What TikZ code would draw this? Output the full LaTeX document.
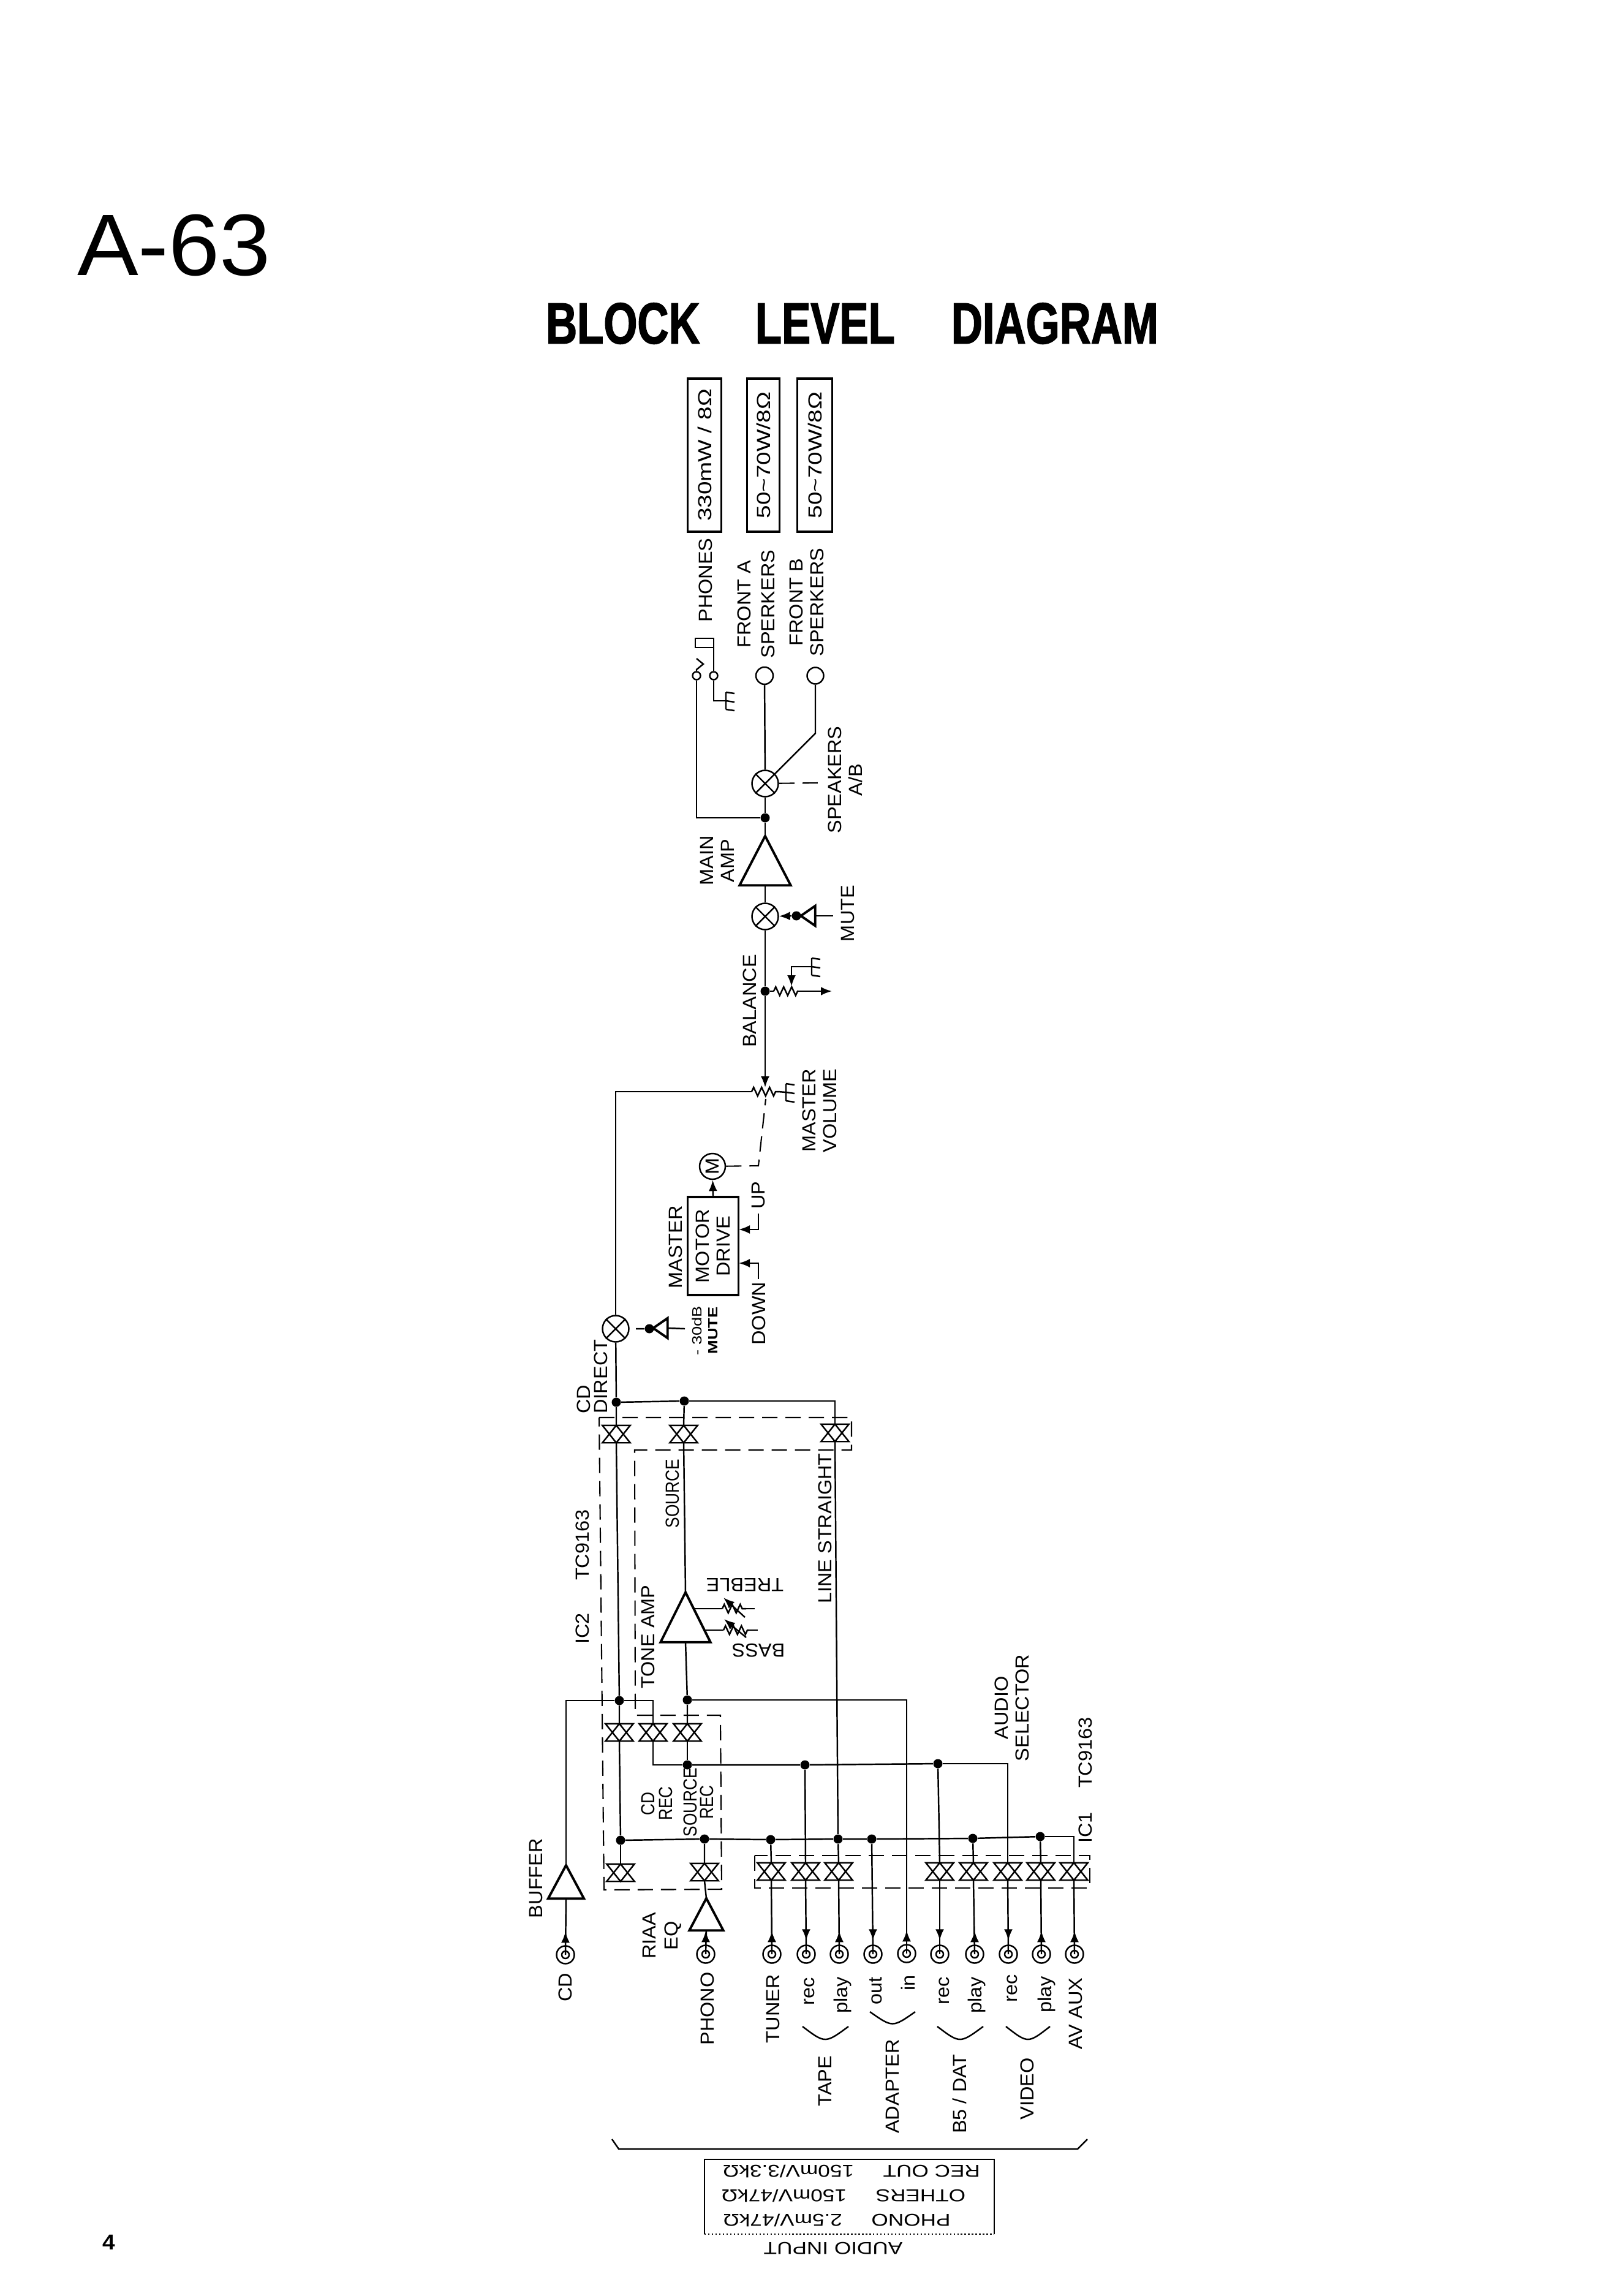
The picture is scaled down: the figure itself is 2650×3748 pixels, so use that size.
\documentclass[tikz,border=0pt]{standalone}
\usepackage{fontspec}
\setmainfont[FakeStretch=1.05]{Liberation Sans}
\newfontfamily\widefont[FakeStretch=1.25]{Liberation Sans}
\newfontfamily\narrowfont[FakeStretch=0.85]{Liberation Sans}
\newfontfamily\titlefont[FakeStretch=0.745,BoldFeatures={FakeBold=1.5}]{Liberation Sans}
\usetikzlibrary{arrows.meta,decorations.pathmorphing}

\tikzset{
  wire/.style={line width=.7pt},
  heavy/.style={line width=1.1pt},
  dashwire/.style={line width=.6pt,dash pattern=on .25cm off .13cm},
  tipwire/.style={wire,-{Latex[length=.18cm,width=.14cm]}},
  zig/.style={wire,decorate,decoration={zigzag,segment length=.13cm,amplitude=.07cm}},
  txt/.style={inner sep=0pt,align=center,font=\fontsize{8.8}{9.7}\selectfont},
  lbl/.style={txt,rotate=90},
  flip/.style={txt,rotate=180,font=\fontsize{8}{9.7}\selectfont\widefont},
  dot/.style={circle,fill,inner sep=0pt,minimum size=.15cm},
  ratebox/.style={draw,heavy,rotate=90,inner sep=0pt,minimum width=2.5cm,font=\fontsize{8.8}{9.7}\selectfont\widefont},
  gatebox/.style={inner sep=0pt,minimum width=.44cm,minimum height=.27cm},
  ringbox/.style={draw,wire,circle,inner sep=0pt,minimum size=.13cm},
}

% Repeated parts
\newcommand{\gate}[2]{\node[gatebox] (#1) at (#2) {};
  \draw[wire] (#1.south west) -- (#1.north) -- (#1.south east) -- cycle
    (#1.north west) -- (#1.south) -- (#1.north east) -- cycle;}
\newcommand{\mixer}[2]{\node[draw,wire,circle,inner sep=0pt,minimum size=.43cm] (#1) at (#2) {};
  \draw[wire] (#1.north west) -- (#1.south east) (#1.north east) -- (#1.south west);}
\newcommand{\ampl}[4]{\node[inner sep=0pt,minimum width=#3cm,minimum height=#4cm] (#1) at (#2) {};
  \draw[heavy] (#1.south west) -- (#1.north) -- (#1.south east) -- cycle;}
\newcommand{\drv}[2]{\node[inner sep=0pt,minimum width=.22cm,minimum height=.31cm] (#1) at (#2) {};
  \draw[heavy] (#1.north east) -- (#1.west) -- (#1.south east) -- cycle;}
\newcommand{\jack}[2]{\node[draw,wire,circle,inner sep=0pt,minimum size=.29cm] (#1) at (#2) {};
  \draw[wire] (#1.center) circle (6);}
\newcommand{\gnd}[2]{\coordinate (#1) at (#2);
  \draw[wire] (#1) +(0,-14) -- +(0,14) (#1) +(0,-14) -- +(14,-12) (#1) -- +(14,2) (#1) +(0,14) -- +(14,16);}
\newcommand{\inarrow}[1]{\draw[tipwire] (#1.north) -- ++(0,-22);}
\newcommand{\outarrow}[1]{\draw[tipwire] (#1.north) ++(0,-30) -- ++(0,23);}

\begin{document}
\begin{tikzpicture}[x=.01cm,y=-.01cm]
\useasboundingbox (0,0) rectangle (2650,3748);

% Headings
\node[inner sep=0pt,font=\fontsize{40.5}{44}\selectfont] (pagename) at (284,400) {A-63};
\node[inner sep=0pt,font=\fontsize{27}{30}\selectfont\titlefont\bfseries] (pagetitle) at (1391,528) {BLOCK \hspace{14.5pt} LEVEL \hspace{15pt} DIAGRAM};
\node[inner sep=0pt,font=\fontsize{10}{12}\selectfont\bfseries] (pagenum) at (178,3660) {4};

% Output ratings
\node[ratebox,minimum height=.55cm] (ratephones) at (1150,743) {330mW / 8Ω};
\node[ratebox,minimum height=.53cm] (ratea) at (1246,743) {50\textasciitilde70W/8Ω};
\node[ratebox,minimum height=.57cm] (rateb) at (1330,743) {50\textasciitilde70W/8Ω};
\node[lbl] (phones) at (1152,947) {PHONES};
\node[lbl] (fronta) at (1234,986) {FRONT A\\[1.4pt]SPERKERS};
\node[lbl] (frontb) at (1317,983) {FRONT B\\SPERKERS};
\node[lbl] (speakers) at (1380,1273) {SPEAKERS\\A/B};

% Phones jack and speaker outputs
\node[ringbox] (tip) at (1137,1103) {};
\node[ringbox] (sleeve) at (1165,1103) {};
\draw[wire] (tip) -- (1137,1093) -- (1148,1084) -- (1137,1075);
\draw[wire] (sleeve) |- (1135,1042) -- (1135,1057) -- (1165,1057);
\gnd{gndphones}{1185,1144}
\draw[wire] (sleeve) |- (gndphones);
\node[draw,wire,circle,inner sep=0pt,minimum size=.28cm] (ja) at (1248,1103) {};
\node[draw,wire,circle,inner sep=0pt,minimum size=.27cm] (jb) at (1331,1103) {};
\mixer{mixspk}{1249,1279}
\coordinate (spkkink) at (1331,1197);
\coordinate (spkctl) at (1336,1278);
\node[dot] (dspk) at (1249,1335) {};
\draw[wire] (ja) -- (mixspk);
\draw[wire] (jb) -- (spkkink) -- (mixspk);
\draw[dashwire] (mixspk) -- (spkctl);
\draw[wire] (mixspk) -- (dspk);
\draw[wire] (tip) |- (dspk);

% Main amp and mute
\ampl{mainamp}{1249,1405}{.82}{.79}
\node[lbl] (mainlbl) at (1171,1405) {MAIN\\AMP};
\draw[wire] (dspk) -- (mainamp.north);
\mixer{mixmute}{1249,1496}
\draw[wire] (mainamp.south) -- (mixmute);
\drv{mutedrv}{1319,1495}
\node[dot] (dmute) at (1300,1495) {};
\coordinate (mutein) at (1360,1495);
\draw[wire] (dmute) -- (mutedrv.west) (mutedrv.east) -- (mutein);
\draw[tipwire] (dmute) -- (mixmute);
\node[lbl] (mutelbl) at (1384,1491) {MUTE};

% Balance
\node[dot] (dbal) at (1249,1618) {};
\draw[wire] (mixmute) -- (dbal);
\node[lbl] (ballbl) at (1224,1634) {BALANCE};
\coordinate (balleft) at (1263,1618);
\coordinate (balright) at (1303,1618);
\coordinate (balout) at (1358,1618);
\coordinate (balwipe) at (1292,1610);
\draw[wire] (dbal) -- (balleft);
\draw[zig] (balleft) -- (balright);
\draw[tipwire] (balright) -- (balout);
\gnd{gndbal}{1325,1578}
\draw[tipwire] (gndbal) -| (balwipe);

% Master volume
\coordinate (volleft) at (1227,1782);
\coordinate (volright) at (1270,1782);
\coordinate (volwipe) at (1249,1775);
\coordinate (volctl) at (1250,1794);
\coordinate (volkink) at (1238,1903);
\gnd{gndvol}{1283,1783}
\draw[zig] (volleft) -- (volright);
\draw[wire] (volright) -- (gndvol);
\draw[tipwire] (dbal) -- (volwipe);
\node[lbl] (vollbl) at (1338,1813) {MASTER\\VOLUME};

% Motor drive
\node[draw,wire,circle,inner sep=0pt,minimum size=.42cm,rotate=90,font=\fontsize{8.8}{9.7}\selectfont] (mot) at (1163,1904) {M};
\draw[dashwire] (mot) -- (volkink) -- (volctl);
\node[draw,heavy,rotate=90,inner sep=0pt,align=center,minimum width=1.6cm,minimum height=.83cm,font=\fontsize{8.8}{9.7}\selectfont] (motorbox) at (1164,2034) {MOTOR\\DRIVE};
\draw[tipwire] (motorbox.east) -- (mot);
\node[lbl] (masterlbl) at (1103,2036) {MASTER};
\coordinate (upin) at (1206,2007);
\coordinate (downin) at (1206,2062);
\coordinate (upend) at (1238,1981);
\coordinate (downend) at (1238,2088);
\draw[tipwire] (upend) |- (upin);
\draw[tipwire] (downend) |- (downin);
\node[lbl] (uplbl) at (1238,1951) {UP};
\node[lbl] (downlbl) at (1239,2144) {DOWN};

% CD direct
\mixer{mixcd}{1005,2169}
\draw[wire] (volleft) -| (mixcd);
\coordinate (cdmuteout) at (1038,2169);
\coordinate (cdmutein) at (1118,2169);
\node[dot] (dcdmute) at (1060,2169) {};
\drv{cddrv}{1078,2168}
\draw[wire] (cdmuteout) -- (dcdmute) -- (cddrv.west) (cddrv.east) -- (cdmutein);
\node[lbl,font=\fontsize{6.2}{7.4}\selectfont\widefont] (cdmutelbl) at (1151,2172) {- 30dB\\{\bfseries MUTE}};
\node[lbl,align=left] (cddlbl) at (967,2247) {CD\\[-1.7pt]DIRECT};

% IC2 selector
\node[dot] (dcd) at (1006,2289) {};
\node[dot] (dsrc) at (1117,2287) {};
\gate{sdirect}{1006,2341}
\gate{ssource}{1116,2341}
\gate{sline}{1363,2339}
\draw[wire] (mixcd) -- (dcd) -- (sdirect.north);
\draw[wire] (dcd) -- (dsrc) -- (ssource.north);
\draw[wire] (dsrc) -| (sline.north);
\draw[dashwire] (978,2314) -- (1390,2314) -- (1390,2367) -- (1036,2367) -- (1037,2800) -- (1176,2800) -- (1178,3084) -- (986,3085) -- cycle;
\node[lbl] (ic2lbl) at (951,2574) {IC2 \hspace{10pt} TC9163};
\node[lbl,font=\fontsize{8.8}{9.7}\selectfont\narrowfont] (srclbl) at (1098,2438) {SOURCE};
\node[lbl] (linelbl) at (1347,2495) {LINE STRAIGHT};
\node[lbl] (tonelbl) at (1058,2672) {TONE AMP};

% Tone amp
\ampl{toneamp}{1119,2640}{.80}{.80}
\draw[wire] (ssource.south) -- (toneamp.north);
\coordinate (trebin) at (1132,2626);
\coordinate (trebl) at (1179,2626);
\coordinate (trebr) at (1218,2626);
\coordinate (trebend) at (1232,2626);
\coordinate (trebwa) at (1216,2640);
\coordinate (trebwb) at (1181,2608);
\draw[wire] (trebin) -- (trebl);
\draw[zig] (trebl) -- (trebr);
\draw[wire] (trebr) -- (trebend);
\draw[tipwire] (trebwa) -- (trebwb);
\coordinate (bassin) at (1152,2661);
\coordinate (bassl) at (1181,2661);
\coordinate (bassr) at (1223,2661);
\coordinate (bassend) at (1237,2661);
\coordinate (basswa) at (1218,2673);
\coordinate (basswb) at (1182,2643);
\draw[wire] (bassin) -- (bassl);
\draw[zig] (bassl) -- (bassr);
\draw[wire] (bassr) -- (bassend);
\draw[tipwire] (basswa) -- (basswb);
\node[flip,font=\fontsize{8.8}{9.7}\selectfont] (treblelbl) at (1216,2587) {TREBLE};
\node[flip,font=\fontsize{8.8}{9.7}\selectfont] (basslbl) at (1238,2694) {BASS};

% Rec switches
\node[dot] (dcdrec) at (1011,2776) {};
\node[dot] (dtone) at (1122,2775) {};
\node[dot] (drec) at (1122,2881) {};
\node[dot] (dcdb) at (1013,3004) {};
\gate{scdrec}{1011,2828}
\gate{smid}{1066,2828}
\gate{srec}{1122,2828}
\draw[wire] (sdirect.south) -- (dcdrec) -- (scdrec.north);
\draw[wire] (dcdrec) -| (smid.north);
\draw[wire] (toneamp.south) -- (dtone) -- (srec.north);
\draw[wire] (srec.south) -- (drec);
\draw[wire] (smid.south) |- (drec);
\draw[wire] (scdrec.south) -- (dcdb);
\node[lbl,font=\fontsize{8.8}{9.7}\selectfont\narrowfont] (cdreclbl) at (1072,2944) {CD\\[-1.4pt]REC};
\node[lbl,font=\fontsize{8.8}{9.7}\selectfont\narrowfont] (srcreclbl) at (1140,2942) {SOURCE\\[-2pt]REC};

% CD and phono inputs
\gate{scd}{1013,3057}
\gate{sphono}{1150,3056}
\ampl{bufamp}{924,3072}{.57}{.53}
\ampl{riaa}{1153,3125}{.54}{.51}
\node[dot] (driaa) at (1150,3002) {};
\jack{jcd}{923,3191}
\jack{jphono}{1152,3190}
\draw[wire] (dcdb) -- (scd.north);
\draw[wire] (dcdb) -- (driaa) -- (sphono.north);
\draw[wire] (sphono.south) -- (riaa.north);
\draw[wire] (riaa.south) -- (jphono.center);
\draw[wire] (bufamp.north) |- (dcdrec);
\draw[wire] (bufamp.south) -- (jcd.center);
\inarrow{jcd}
\inarrow{jphono}
\node[lbl] (buflbl) at (875,3066) {BUFFER};
\node[lbl] (cdlbl) at (923,3244) {CD};
\node[lbl] (riaalbl) at (1081,3160) {RIAA\\[.6pt]EQ};
\node[lbl] (phonolbl) at (1155,3279) {PHONO};

% IC1 selector
\draw[dashwire] (1232,3029) rectangle (1779,3082);
\gate{stuner}{1259,3055}
\gate{staperec}{1315,3055}
\gate{stapeplay}{1369,3055}
\gate{sbrec}{1534,3055}
\gate{sbplay}{1589,3055}
\gate{svrec}{1645,3055}
\gate{svplay}{1699,3055}
\gate{saux}{1753,3055}
\jack{jtuner}{1260,3190}
\jack{jtaperec}{1316,3190}
\jack{jtapeplay}{1370,3190}
\jack{jout}{1425,3190}
\jack{jin}{1480,3189}
\jack{jbrec}{1534,3190}
\jack{jbplay}{1591,3190}
\jack{jvrec}{1646,3190}
\jack{jvplay}{1700,3190}
\jack{jaux}{1754,3190}
\node[dot] (dtuner) at (1258,3003) {};
\node[dot] (dplay) at (1368,3002) {};
\node[dot] (dout) at (1423,3002) {};
\node[dot] (dbplay) at (1588,3001) {};
\node[dot] (dvplay) at (1698,2998) {};
\node[dot] (dtape) at (1314,2881) {};
\node[dot] (dbrec) at (1531,2879) {};

% Record and play buses
\draw[wire] (driaa) -- (dtuner) -- (dplay) -- (dout) -- (dbplay) -- (dvplay);
\draw[wire] (dvplay) -| (saux.north);
\draw[wire] (drec) -- (dtape) -- (dbrec);
\draw[wire] (dbrec) -| (svrec.north);
\draw[wire] (dtone) -| (jin.center);
\draw[wire] (sline.south) -- (dplay);
\draw[wire] (dtuner) -- (stuner.north) (dtape) -- (staperec.north) (dplay) -- (stapeplay.north);
\draw[wire] (dbrec) -- (sbrec.north) (dbplay) -- (sbplay.north) (dvplay) -- (svplay.north);
\draw[wire] (dout) -- (jout.center);
\draw[wire] (stuner.south) -- (jtuner.center);
\draw[wire] (staperec.south) -- (jtaperec.center);
\draw[wire] (stapeplay.south) -- (jtapeplay.center);
\draw[wire] (sbrec.south) -- (jbrec.center);
\draw[wire] (sbplay.south) -- (jbplay.center);
\draw[wire] (svrec.south) -- (jvrec.center);
\draw[wire] (svplay.south) -- (jvplay.center);
\draw[wire] (saux.south) -- (jaux.center);
\inarrow{jtuner}
\outarrow{jtaperec}
\inarrow{jtapeplay}
\outarrow{jout}
\inarrow{jin}
\outarrow{jbrec}
\inarrow{jbplay}
\outarrow{jvrec}
\inarrow{jvplay}
\inarrow{jaux}

% Input labels
\node[lbl] (tunerlbl) at (1262,3279) {TUNER};
\node[lbl] (rec1) at (1321,3251) {rec};
\node[lbl] (play1) at (1375,3257) {play};
\node[lbl] (outlbl) at (1430,3250) {out};
\node[lbl] (inlbl) at (1482,3237) {in};
\node[lbl] (rec2) at (1541,3250) {rec};
\node[lbl] (play2) at (1594,3257) {play};
\node[lbl] (rec3) at (1652,3246) {rec};
\node[lbl] (play3) at (1708,3256) {play};
\node[lbl] (auxlbl) at (1756,3287) {AV AUX};
\node[lbl] (tapelbl) at (1347,3397) {TAPE};
\node[lbl] (adlbl) at (1457,3406) {ADAPTER};
\node[lbl] (datlbl) at (1566,3418) {B5 / DAT};
\node[lbl] (videolbl) at (1677,3410) {VIDEO};
\node[lbl] (sellbl) at (1652,2788) {AUDIO\\SELECTOR};
\node[lbl] (ic1lbl) at (1772,2906) {IC1 \hspace{6pt} TC9163};

% Group arcs
\draw[wire] (1310,3308) .. controls (1347,3336) .. (1385,3308);
\draw[wire] (1420,3284) .. controls (1457,3310) .. (1494,3284);
\draw[wire] (1530,3308) .. controls (1567,3336) .. (1605,3308);
\draw[wire] (1642,3308) .. controls (1678,3336) .. (1714,3308);

% Input level table
\draw[wire] (999,3492) -- (1010,3508) -- (1759,3508) -- (1775,3492);
\draw[wire] (1150,3647) -- (1150,3525) -- (1623,3525) -- (1623,3647);
\draw[wire,densely dotted] (1150,3647) -- (1623,3647);
\node[flip] (levrec) at (1390,3545) {REC OUT \hspace{8pt} 150mV/3.3kΩ};
\node[flip] (levoth) at (1377,3585) {OTHERS \hspace{8pt} 150mV/47kΩ};
\node[flip] (levpho) at (1366,3625) {PHONO \hspace{8pt} 2.5mV/47kΩ};
\node[flip] (levin) at (1360,3670) {AUDIO INPUT};
\end{tikzpicture}
\end{document}
